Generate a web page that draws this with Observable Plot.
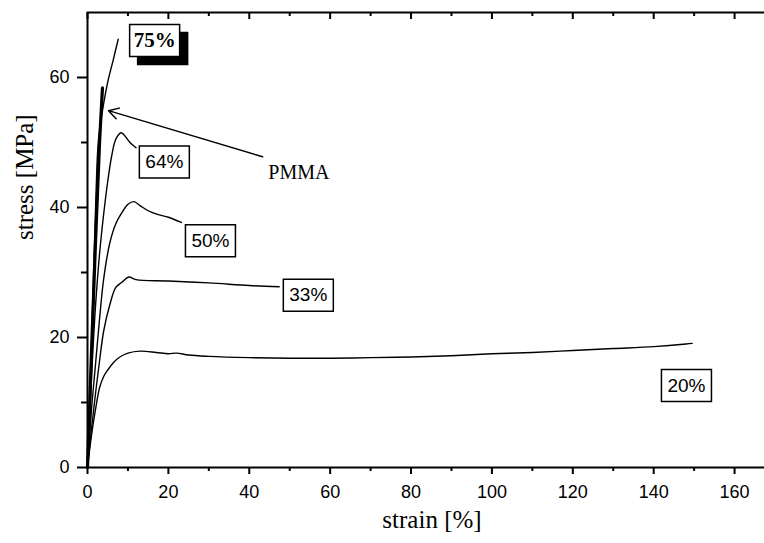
<!DOCTYPE html>
<html><head><meta charset="utf-8">
<script src="https://cdn.jsdelivr.net/npm/d3@7"></script>
<script src="https://cdn.jsdelivr.net/npm/@observablehq/plot@0.6"></script>
<style>body{margin:0;background:#fff} #chart{width:764px;height:543px}</style>
</head><body><div id="chart"></div>
<script>
// Stress-strain curves, [strain %, stress MPa]
const curve75 = [[0,0],[0.8,15],[1.5,30],[2.1,42],[2.7,50.3],[4,56],[5,59.3],[6.4,62.8],[7.6,65.9]];
const curvePMMA = [[0,0],[1,18],[2,35],[3,50.3],[3.7,58.4]];
const curve64 = [[0,0],[1,14],[2,25],[3,33],[4,39],[5,44],[6,48],[7,50.5],[8.3,51.5],[9,51.2],[10.5,50],[12,49.2]];
const curve50 = [[0,0],[1,9],[2,16],[3,23],[4,29],[5.5,34.5],[7,37.5],[8.7,39.4],[10,40.5],[11.5,40.9],[13,40.3],[15,39.5],[17.5,38.9],[20,38.5],[23.2,37.7]];
const curve33 = [[0,0],[1,6],[2,11.5],[3,16.5],[4,21],[5.5,25],[7,27.7],[8.5,28.5],[10.2,29.3],[12,28.9],[20,28.7],[30,28.4],[40,28.0],[47.4,27.8]];
const curve20 = [[0,0],[1,5],[2,9],[3,12.3],[4,14],[5,15],[6.5,16.2],[8,17],[10,17.6],[13,17.9],[17,17.7],[20,17.5],[22,17.6],[25,17.3],[30,17.1],[40,16.9],[50,16.8],[60,16.8],[70,16.9],[80,17],[90,17.2],[100,17.5],[110,17.7],[120,18],[130,18.3],[140,18.6],[148,19],[149.5,19.1]];

const labelNames = ["75%","64%","50%","33%","20%"];
const labelX = [16.6, 19.0, 30.4, 54.6, 148.1];
const labelY = [65.7, 47.0, 34.9, 26.5, 12.6];

const pmmaText = "PMMA";
const pmmaTextPos = [44.7, 45.4];
const arrowFrom = [43.3, 47.8];
const arrowTo = [5.2, 54.9];

const xMajor = [0,20,40,60,80,100,120,140,160];
const xMinor = [10,30,50,70,90,110,130,150];
const yMajor = [0,20,40,60];
const yMinor = [10,30,50];
const xDomain = [0, 167.4];
const yDomain = [0, 70];
const xTitle = "strain [%]";
const yTitle = "stress [MPa]";

const toRows = (arr, name) => arr.map(([x, y]) => ({x, y, name}));
const thin = [
  ...toRows(curve75, "75%"), ...toRows(curve64, "64%"), ...toRows(curve50, "50%"),
  ...toRows(curve33, "33%"), ...toRows(curve20, "20%")
];
const pmma = toRows(curvePMMA, "PMMA");
const labels = labelNames.map((t, i) => ({t, x: labelX[i], y: labelY[i]}));
const boldLabels = labels.filter(d => d.t === "75%");
const plainLabels = labels.filter(d => d.t !== "75%");

const boxSymbol = {draw(ctx) { ctx.rect(-25, -16, 50, 32); }};

const plot = Plot.plot({
  width: 764, height: 543,
  marginLeft: 87, marginRight: 0, marginTop: 12, marginBottom: 76,
  x: {domain: xDomain},
  y: {domain: yDomain},
  style: {fontFamily: "Liberation Sans", fontSize: "18px", color: "black", background: "white"},
  marks: [
    Plot.line(thin, {x: "x", y: "y", z: "name", stroke: "black", strokeWidth: 1.4, curve: "catmull-rom"}),
    Plot.line(pmma, {x: "x", y: "y", stroke: "black", strokeWidth: 3.2}),
    Plot.arrow([0], {x1: () => arrowFrom[0], y1: () => arrowFrom[1], x2: () => arrowTo[0], y2: () => arrowTo[1], stroke: "black", strokeWidth: 1.5, headLength: 11}),
    Plot.text([pmmaText], {x: () => pmmaTextPos[0], y: () => pmmaTextPos[1], text: d => d, textAnchor: "start", fontFamily: "Liberation Serif", fontSize: 20}),
    Plot.dot(boldLabels, {x: "x", y: "y", symbol: boxSymbol, r: 5, fill: "black", stroke: "black", dx: 8, dy: 8}),
    Plot.dot(labels, {x: "x", y: "y", symbol: boxSymbol, r: 5, fill: "white", stroke: "black", strokeWidth: 1.5}),
    Plot.text(plainLabels, {x: "x", y: "y", text: "t", fontFamily: "Liberation Sans", fontSize: 19}),
    Plot.text(boldLabels, {x: "x", y: "y", text: "t", fontFamily: "Liberation Serif", fontWeight: "bold", fontSize: 21}),
    Plot.ruleX([xDomain[0]], {stroke: "black", strokeWidth: 2}),
    Plot.ruleY([yDomain[0]], {stroke: "black", strokeWidth: 2}),
    Plot.ruleY([yDomain[1]], {stroke: "black", strokeWidth: 2}),
    Plot.axisX({ticks: xMajor, tickSize: 7, tickPadding: 11, strokeWidth: 2, label: null, fontSize: 18}),
    Plot.axisX({ticks: xMinor, tickSize: 4, text: null, strokeWidth: 2, label: null}),
    Plot.tickX(xMajor, {x: d => d, insetBottom: 448, strokeWidth: 2}),
    Plot.tickX(xMinor, {x: d => d, insetBottom: 451, strokeWidth: 2}),
    Plot.axisY({ticks: yMajor, tickSize: 10, tickPadding: 8, strokeWidth: 2, label: null, fontSize: 18}),
    Plot.axisY({ticks: yMinor, tickSize: 6, text: null, strokeWidth: 2, label: null}),
    Plot.text([yTitle], {frameAnchor: "left", dx: -63, rotate: -90, text: d => d, fontFamily: "Liberation Serif", fontSize: 25}),
    Plot.text([xTitle], {frameAnchor: "bottom", dy: 60, dx: 6, text: d => d, fontFamily: "Liberation Serif", fontSize: 25})
  ]
});
document.getElementById("chart").appendChild(plot);
</script>
</body></html>
